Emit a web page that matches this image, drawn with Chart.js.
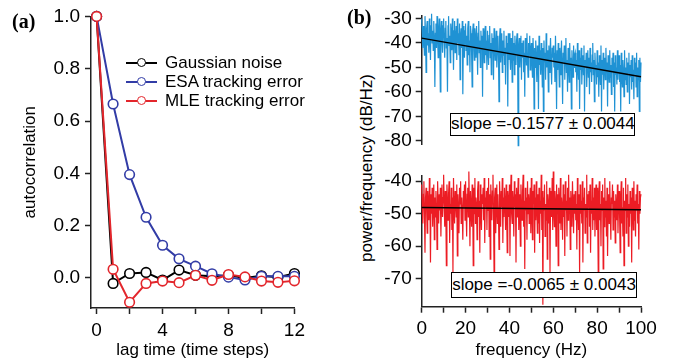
<!DOCTYPE html>
<html>
<head>
<meta charset="utf-8">
<script src="https://cdn.jsdelivr.net/npm/chart.js@4.4.1/dist/chart.umd.min.js"></script>
<style>
  body { margin: 0; background: #fff; font-family: "Liberation Sans", Arial, sans-serif; color: #000; }
  #wrap { position: relative; width: 678px; height: 364px; overflow: hidden; background: #fff; }
  canvas { position: absolute; }
  .panel { position: absolute; font-family: "Liberation Serif", "Times New Roman", serif; font-weight: bold; font-size: 20px; }
  .legend { position: absolute; left: 126px; top: 53px; font-size: 17px; }
  .row { display: flex; align-items: center; height: 19px; }
  .sym { position: relative; width: 31px; height: 19px; margin-right: 8px; }
  .sym .ln { position: absolute; left: 0; right: 0; top: 8.5px; height: 2px; }
  .sym .dot { position: absolute; left: 11px; top: 4.5px; width: 7px; height: 7px; border: 1.5px solid; border-radius: 50%; background: #fff; }
  .fitbox { position: absolute; box-sizing: border-box; border: 1.5px solid #000; background: #fff; font-size: 17px; text-align: center; white-space: nowrap; }
  #ytitleB { position: absolute; left: 247px; top: 158px; width: 240px; height: 20px; line-height: 20px; text-align: center; font-size: 17px; transform: rotate(-90deg); }
</style>
</head>
<body>
<div id="wrap">
  <canvas id="chartA" width="310" height="364" style="left:0;top:0"></canvas>
  <canvas id="chartB1" width="298" height="160" style="left:380px;top:0"></canvas>
  <canvas id="chartB2" width="298" height="204" style="left:380px;top:160px"></canvas>

  <div class="panel" style="left:12px;top:10px">(a)</div>
  <div class="panel" style="left:347px;top:6px">(b)</div>

  <!-- legend of panel (a) -->
  <div class="legend">
    <div class="row"><div class="sym"><div class="ln" style="background:#000"></div><div class="dot" style="border-color:#000"></div></div>Gaussian noise</div>
    <div class="row"><div class="sym"><div class="ln" style="background:#323ca6"></div><div class="dot" style="border-color:#323ca6"></div></div>ESA tracking error</div>
    <div class="row"><div class="sym"><div class="ln" style="background:#e3262c"></div><div class="dot" style="border-color:#e3262c"></div></div>MLE tracking error</div>
  </div>

  <div id="ytitleB">power/frequency (dB/Hz)</div>
  <div class="fitbox" style="left:450px;top:113px;width:185px;height:23px;line-height:20px">slope =-0.1577 ± 0.0044</div>
  <div class="fitbox" style="left:451px;top:272px;width:186px;height:26px;line-height:23px">slope =-0.0065 ± 0.0043</div>
</div>

<script>
// ---- panel (a) data ----
const lagTime = [0, 1, 2, 3, 4, 5, 6, 7, 8, 9, 10, 11, 12];
const gaussianNoise = [1.0, -0.021, 0.017, 0.021, -0.008, 0.030, 0.010, 0.006, 0.010, 0.000, 0.008, 0.003, 0.017];
const esaError = [1.0, 0.665, 0.395, 0.232, 0.125, 0.073, 0.045, 0.016, 0.003, -0.008, 0.006, 0.006, 0.006];
const mleError = [1.0, 0.033, -0.093, -0.021, -0.012, -0.018, 0.010, -0.009, 0.013, 0.004, -0.012, -0.017, -0.011];
const lagTicks = [0, 2, 4, 6, 8, 10, 12];
const acTicks = [0, 0.2, 0.4, 0.6, 0.8, 1.0];

// ---- panel (b) data, one row = 10 Hz (0.25 Hz per value) ----
const esaSpectrum = [
  -30, -36, -42, -33, -39, -45, -29, -37, -52, -34, -31, -41, -36, -44, -30, -38, -47, -33, -28, -40,
  -35, -43, -31, -39, -58, -36, -32, -42, -29, -37, -46, -34, -30, -41, -60, -35, -31, -39, -44, -33,
  -30, -40, -46, -34, -31, -42, -38, -60, -33, -29, -41, -37, -48, -32, -36, -43, -30, -39, -51, -35,
  -31, -44, -38, -33, -47, -30, -40, -36, -45, -32, -55, -37, -34, -42, -31, -61, -39, -33, -46, -35,
  -32, -43, -37, -49, -34, -31, -45, -39, -52, -33, -36, -44, -58, -35, -32, -41, -47, -34, -38, -46,
  -33, -40, -53, -36, -31, -44, -39, -50, -35, -42, -37, -62, -34, -40, -48, -36, -33, -45, -39, -51,
  -35, -42, -49, -37, -33, -46, -40, -53, -36, -44, -38, -55, -34, -41, -47, -39, -35, -50, -43, -37,
  -45, -64, -38, -34, -48, -41, -36, -52, -39, -45, -35, -49, -42, -57, -37, -44, -40, -66, -36, -47,
  -36, -45, -51, -38, -42, -56, -35, -47, -40, -53, -37, -44, -49, -39, -36, -48, -82, -41, -38, -50,
  -43, -37, -55, -40, -46, -39, -52, -44, -62, -38, -42, -49, -36, -47, -54, -40, -45, -37, -51, -43,
  -40, -48, -54, -38, -45, -67, -42, -50, -39, -47, -56, -41, -44, -67, -37, -49, -43, -53, -40, -46,
  -58, -42, -68, -39, -48, -44, -55, -36, -50, -43, -47, -60, -41, -52, -45, -38, -49, -57, -42, -46,
  -41, -50, -44, -56, -37, -48, -67, -43, -51, -40, -47, -58, -42, -53, -46, -39, -50, -65, -44, -48,
  -41, -55, -45, -38, -52, -47, -60, -42, -49, -56, -40, -51, -46, -67, -43, -48, -54, -41, -50, -45,
  -44, -52, -47, -60, -40, -50, -55, -43, -67, -46, -51, -42, -57, -48, -45, -53, -41, -68, -47, -50,
  -44, -58, -49, -43, -54, -46, -61, -42, -52, -48, -56, -45, -40, -53, -47, -64, -44, -51, -49, -57,
  -43, -54, -48, -62, -45, -51, -57, -41, -68, -47, -53, -44, -59, -49, -46, -55, -42, -52, -48, -66,
  -45, -50, -56, -43, -54, -49, -61, -46, -52, -44, -58, -48, -68, -45, -53, -50, -57, -43, -55, -47,
  -45, -56, -49, -68, -44, -53, -58, -47, -51, -62, -43, -55, -50, -57, -46, -60, -48, -52, -44, -65,
  -49, -54, -47, -59, -45, -56, -51, -63, -46, -53, -48, -58, -44, -62, -50, -55, -47, -68, -46, -56,
  -48
];
const mleSpectrum = [
  -41, -48, -53, -44, -40, -50, -62, -45, -42, -49, -56, -43, -47, -52, -39, -46, -65, -44, -50, -42,
  -54, -47, -41, -58, -45, -51, -43, -48, -61, -40, -46, -53, -44, -49, -42, -57, -47, -41, -51, -45,
  -38, -47, -54, -43, -49, -66, -41, -46, -52, -44, -40, -59, -47, -50, -42, -55, -45, -68, -39, -48,
  -53, -43, -46, -51, -41, -63, -44, -49, -56, -42, -47, -40, -53, -45, -50, -58, -43, -48, -41, -52,
  -40, -49, -57, -44, -42, -51, -37, -47, -60, -43, -48, -54, -41, -46, -66, -42, -50, -39, -53, -45,
  -47, -58, -43, -40, -51, -46, -62, -41, -49, -55, -44, -47, -42, -52, -39, -59, -45, -48, -43, -55,
  -42, -49, -39, -57, -44, -64, -41, -47, -52, -43, -38, -50, -68, -45, -42, -56, -47, -41, -53, -44,
  -50, -61, -40, -46, -54, -43, -48, -39, -59, -45, -51, -42, -47, -55, -41, -49, -62, -43, -46, -51,
  -41, -63, -45, -38, -50, -53, -43, -47, -57, -40, -48, -44, -65, -42, -51, -46, -39, -55, -44, -49,
  -60, -41, -47, -52, -43, -38, -54, -46, -67, -42, -49, -45, -58, -40, -50, -44, -53, -47, -42, -56,
  -39, -50, -58, -43, -47, -41, -62, -45, -52, -40, -48, -56, -44, -53, -42, -59, -46, -50, -38, -55,
  -43, -78, -45, -49, -41, -57, -47, -52, -40, -64, -44, -48, -53, -42, -68, -46, -43, -51, -39, -55,
  -37, -49, -54, -43, -46, -60, -41, -50, -44, -66, -42, -47, -53, -39, -55, -45, -48, -58, -41, -51,
  -44, -63, -40, -49, -46, -57, -42, -52, -38, -50, -45, -61, -43, -48, -54, -40, -47, -56, -44, -50,
  -43, -52, -47, -61, -39, -48, -55, -44, -68, -41, -50, -46, -53, -40, -65, -45, -49, -42, -56, -47,
  -51, -38, -59, -44, -48, -43, -54, -41, -62, -46, -50, -39, -55, -45, -52, -42, -57, -47, -41, -55,
  -42, -50, -68, -44, -40, -52, -47, -60, -43, -49, -41, -67, -45, -54, -39, -51, -46, -57, -42, -63,
  -48, -44, -53, -40, -50, -58, -45, -47, -41, -55, -43, -51, -46, -59, -44, -48, -52, -41, -56, -47,
  -43, -51, -62, -45, -40, -53, -48, -57, -42, -66, -46, -49, -39, -56, -44, -51, -41, -60, -47, -54,
  -43, -50, -45, -65, -42, -48, -55, -40, -52, -46, -57, -44, -49, -41, -53, -47, -61, -43, -50, -45,
  -44
];
// linear fits: value at 0 Hz and at 100 Hz
const fitFreq = [0, 100];
const esaFit = [-38.0, -53.8];
const mleFit = [-48.1, -48.75];
const freqTicks = [0, 10, 20, 30, 40, 50, 60, 70, 80, 90, 100];
const esaDbTicks = [-80, -70, -60, -50, -40, -30];
const mleDbTicks = [-70, -60, -50, -40];

// sampling grid of the spectra (0.25 Hz steps)
const freq = esaSpectrum.map((_, i) => i * 0.25);

const FONT = { family: '"Liberation Sans", Arial, sans-serif', size: 17 };
const TICK_FONT = { family: '"Liberation Sans", Arial, sans-serif', size: 19 };
const AXIS = '#222';

const toXY = (xs, ys) => ys.map((y, i) => ({ x: xs[i], y: y }));

// shared axis look: Igor style, ticks outside, no grid
function axis(extra) {
  return Object.assign({
    type: 'linear',
    grid: { drawOnChartArea: false, drawTicks: true, tickLength: 6, tickColor: AXIS, tickWidth: 1.5 },
    border: { display: true, color: AXIS, width: 1.5 }
  }, extra);
}

const base = {
  responsive: false,
  animation: false,
  plugins: { legend: { display: false }, tooltip: { enabled: false } }
};

// ---- chart (a) ----
function lagSeries(values, color, order) {
  return {
    data: toXY(lagTime, values),
    borderColor: color,
    borderWidth: 2,
    pointRadius: 4.8,
    pointBorderWidth: 1.6,
    pointBorderColor: color,
    pointBackgroundColor: '#fff',
    order: order,
    clip: false
  };
}

new Chart(document.getElementById('chartA'), {
  type: 'line',
  data: {
    datasets: [
      lagSeries(gaussianNoise, '#000', 3),
      lagSeries(esaError, '#323ca6', 2),
      lagSeries(mleError, '#e3262c', 1)
    ]
  },
  options: Object.assign({}, base, {
    layout: { padding: { left: 0, right: 12, top: 13, bottom: 0 } },
    scales: {
      x: axis({
        min: -0.34, max: 12,
        afterBuildTicks: s => { s.ticks = lagTicks.map(v => ({ value: v })); },
        ticks: { color: '#000', font: TICK_FONT, padding: 5, autoSkip: false, maxRotation: 0,
                 callback: v => (v % 4 === 0 ? String(v) : '') },
        title: { display: true, text: 'lag time (time steps)', color: '#000', font: FONT, padding: { top: 0, bottom: 3 } },
        afterFit: s => { s.height = 56; }
      }),
      y: axis({
        min: -0.115, max: 1.0,
        afterBuildTicks: s => { s.ticks = acTicks.map(v => ({ value: v })); },
        ticks: { color: '#000', font: TICK_FONT, padding: 5, callback: v => v.toFixed(1) },
        title: { display: true, text: 'autocorrelation', color: '#000', font: FONT, padding: { top: 20, bottom: 0 } },
        afterFit: s => { s.width = 91; }
      })
    }
  })
});

// ---- chart (b), spectrum + its fit line ----
function spectrumSets(values, color, fit) {
  return [
    { data: toXY(freq, values), borderColor: color, borderWidth: 1.2, pointRadius: 0, order: 2, clip: false },
    { data: toXY(fitFreq, fit), borderColor: '#000', borderWidth: 1.5, pointRadius: 0, order: 1, clip: false }
  ];
}

// top: ESA spectrum
new Chart(document.getElementById('chartB1'), {
  type: 'line',
  data: { datasets: spectrumSets(esaSpectrum, '#1f92d4', esaFit) },
  options: Object.assign({}, base, {
    layout: { padding: { left: 0, right: 37, top: 15, bottom: 13 } },
    scales: {
      x: { type: 'linear', min: 0, max: 100, display: false },
      y: axis({
        min: -81.6, max: -28.7,
        afterBuildTicks: s => { s.ticks = esaDbTicks.map(v => ({ value: v })); },
        ticks: { color: '#000', font: TICK_FONT, padding: 4, callback: v => String(v) },
        afterFit: s => { s.width = 41.7; }
      })
    }
  })
});

// bottom: MLE spectrum
new Chart(document.getElementById('chartB2'), {
  type: 'line',
  data: { datasets: spectrumSets(mleSpectrum, '#ec1c24', mleFit) },
  options: Object.assign({}, base, {
    layout: { padding: { left: 0, right: 37, top: 13, bottom: 0 } },
    scales: {
      x: axis({
        min: 0, max: 100,
        afterBuildTicks: s => { s.ticks = freqTicks.map(v => ({ value: v })); },
        ticks: { color: '#000', font: TICK_FONT, padding: 5, autoSkip: false, maxRotation: 0,
                 callback: v => (v % 20 === 0 ? String(v) : '') },
        title: { display: true, text: 'frequency (Hz)', color: '#000', font: FONT, padding: { top: 0, bottom: 3 } },
        afterFit: s => { s.height = 57.3; }
      }),
      y: axis({
        min: -78.6, max: -38.2,
        afterBuildTicks: s => { s.ticks = mleDbTicks.map(v => ({ value: v })); },
        ticks: { color: '#000', font: TICK_FONT, padding: 4, callback: v => String(v) },
        afterFit: s => { s.width = 41.7; }
      })
    }
  })
});
</script>
</body>
</html>
